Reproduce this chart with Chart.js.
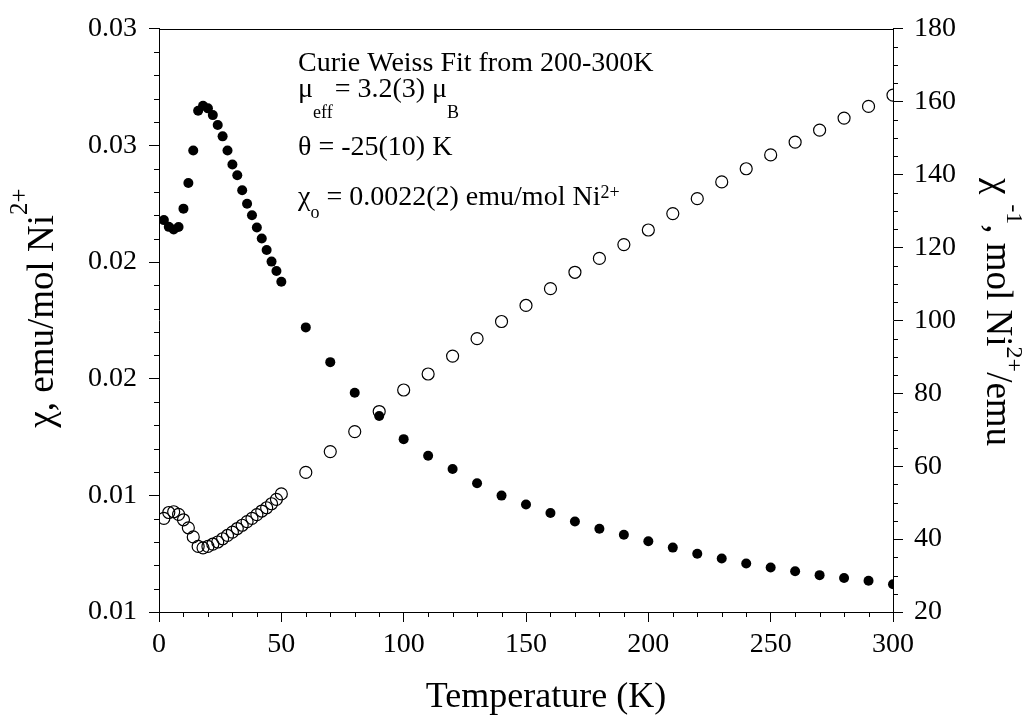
<!DOCTYPE html>
<html>
<head>
<meta charset="utf-8">
<title>Susceptibility vs temperature</title>
<script src="https://cdn.jsdelivr.net/npm/chart.js@4.4.1/dist/chart.umd.min.js"></script>
<style>
  html, body { margin: 0; padding: 0; background: #fff; }
  #wrap { width: 1032px; height: 715px; }
</style>
</head>
<body>
<div id="wrap"><canvas id="chiChart" width="1032" height="715"></canvas></div>
<script>
// temperatures (K)
const temperatures = [2, 4, 6, 8, 10, 12, 14, 16, 18, 20, 22, 24, 26, 28, 30, 32, 34, 36, 38, 40,
  42, 44, 46, 48, 50, 60, 70, 80, 90, 100, 110, 120, 130, 140, 150, 160, 170, 180, 190, 200,
  210, 220, 230, 240, 250, 260, 270, 280, 290, 300];

// chi, emu/mol Ni2+ (filled circles, left axis)
const chiValues = [0.02180, 0.02151, 0.02140, 0.02150, 0.02229, 0.02339, 0.02478, 0.02649, 0.02670, 0.02659,
  0.02630, 0.02588, 0.02539, 0.02478, 0.02418, 0.02372, 0.02308, 0.02250, 0.02201, 0.02148,
  0.02101, 0.02052, 0.02002, 0.01962, 0.01916, 0.01720, 0.01571, 0.01440, 0.01340, 0.01241,
  0.01170, 0.01113, 0.01052, 0.00999, 0.00961, 0.00924, 0.00888, 0.00857, 0.00831, 0.00803,
  0.00776, 0.00750, 0.00729, 0.00708, 0.00691, 0.00675, 0.00658, 0.00646, 0.00634, 0.00619];

// chi^-1, mol Ni2+/emu (open circles, right axis)
const chiInvValues = [45.7, 47.3, 47.5, 46.8, 45.3, 43.1, 40.6, 38.0, 37.6, 38.0,
  38.6, 39.2, 40.1, 41.0, 41.9, 42.9, 43.8, 44.8, 45.7, 46.7,
  47.7, 48.6, 49.7, 50.9, 52.4, 58.3, 64.0, 69.5, 75.0, 80.9,
  85.3, 90.2, 95.0, 99.7, 104.1, 108.7, 113.2, 117.0, 120.8, 124.8,
  129.3, 133.4, 138.0, 141.6, 145.4, 148.9, 152.2, 155.5, 158.7, 161.8];

// tick labels of the left axis, bottom to top (as printed)
const chiTickLabels = ['0.01', '0.01', '0.02', '0.02', '0.03', '0.03'];

// texts
const xTitle = 'Temperature (K)';
const leftTitle = [['χ, emu/mol Ni', 0], ['2+', 1]];
const rightTitle = [['χ', 0], ['-1', 1], [', mol Ni', 0], ['2+', 1], ['/emu', 0]];
const fitNotes = [
  [['Curie Weiss Fit from 200-300K', 0]],
  [['μ', 0], ['eff', -1], ['= 3.2(3) μ', 0], ['B', -1]],
  [['θ = -25(10) K', 0]],
  [['χ', 0], ['o', -1], [' = 0.0022(2) emu/mol Ni', 0], ['2+', 1]]
];

const FONT = "'Liberation Serif', 'Times New Roman', serif";

function fontOf(size) { return size + 'px ' + FONT; }

// draws a run of normal / sub / superscript pieces starting at (x, y) baseline
function drawRuns(ctx, runs, x, y, st) {
  let cx = x;
  runs.forEach(([text, kind], i) => {
    const size = kind === 0 ? st.size : st.small;
    const dy = kind === 0 ? 0 : (kind > 0 ? st.sup : st.sub);
    if (st.gaps && st.gaps[i]) cx += st.gaps[i];
    ctx.font = fontOf(size);
    ctx.fillText(text, cx, y + dy);
    cx += ctx.measureText(text).width;
  });
  return cx - x;
}

function runsWidth(ctx, runs, st) {
  let w = 0;
  runs.forEach(([text, kind], i) => {
    ctx.font = fontOf(kind === 0 ? st.size : st.small);
    w += ctx.measureText(text).width + ((st.gaps && st.gaps[i]) || 0);
  });
  return w;
}

// minor ticks, top frame line, titles and the fit notes
const decorations = {
  id: 'decorations',
  afterDraw(chart) {
    const ctx = chart.ctx;
    const a = chart.chartArea;
    const px = p => Math.round(p) + 0.5;
    ctx.save();
    ctx.strokeStyle = '#000';
    ctx.lineWidth = 1;
    ctx.beginPath();
    ctx.moveTo(a.left, px(a.top));
    ctx.lineTo(a.right, px(a.top));

    const minor = (scale, step, per, len) => {
      const n = Math.round((scale.max - scale.min) / step);
      for (let i = 1; i < n; i++) {
        if (i % per === 0) continue;
        const p = px(scale.getPixelForValue(scale.min + i * step));
        if (scale.isHorizontal()) {
          ctx.moveTo(p, a.bottom); ctx.lineTo(p, a.bottom + len);
        } else if (scale.position === 'left') {
          ctx.moveTo(a.left, p); ctx.lineTo(a.left - len, p);
        } else {
          ctx.moveTo(a.right, p); ctx.lineTo(a.right + len, p);
        }
      }
    };
    minor(chart.scales.x, 10, 5, 5);
    minor(chart.scales.yChi, 0.001, 5, 5);
    minor(chart.scales.yInv, 5, 4, 5);
    ctx.stroke();

    ctx.fillStyle = '#000';
    ctx.textBaseline = 'alphabetic';
    ctx.textAlign = 'left';

    // x title
    ctx.font = fontOf(36);
    const xw = ctx.measureText(xTitle).width;
    ctx.fillText(xTitle, 546 - xw / 2, 707);

    // left title, reading upwards
    const ls = { size: 37, small: 25, sup: -26, sub: 0 };
    const lw = runsWidth(ctx, leftTitle, ls);
    ctx.save();
    ctx.translate(53, 308);
    ctx.rotate(-Math.PI / 2);
    drawRuns(ctx, leftTitle, -lw / 2, 0, ls);
    ctx.restore();

    // right title, reading downwards
    const rs = { size: 37, small: 24, sup: -20, sub: 0, gaps: { 1: 10 } };
    const rw = runsWidth(ctx, rightTitle, rs);
    ctx.save();
    ctx.translate(987, 312);
    ctx.rotate(Math.PI / 2);
    drawRuns(ctx, rightTitle, -rw / 2, 0, rs);
    ctx.restore();

    // fit notes
    const noteBase = [71, 97, 155, 205];
    const noteSub = [0, 21, 0, 13];
    fitNotes.forEach((runs, i) => {
      drawRuns(ctx, runs, 298, noteBase[i], { size: 28, small: 18, sup: -7, sub: noteSub[i], gaps: i === 1 ? { 2: 2 } : null });
    });
    ctx.restore();
  }
};

const tickFont = { family: FONT, size: 28 };

const chiPoints = temperatures.map((t, i) => ({ x: t, y: chiValues[i] }));
const chiInvPoints = temperatures.map((t, i) => ({ x: t, y: chiInvValues[i] }));

new Chart(document.getElementById('chiChart'), {
  type: 'scatter',
  data: {
    datasets: [
      {
        label: 'χ',
        data: chiPoints,
        yAxisID: 'yChi',
        pointRadius: 5,
        pointBackgroundColor: '#000',
        pointBorderWidth: 0,
        showLine: false
      },
      {
        label: 'χ-1',
        data: chiInvPoints,
        yAxisID: 'yInv',
        pointRadius: 6,
        pointBackgroundColor: 'rgba(0,0,0,0)',
        pointBorderColor: '#000',
        pointBorderWidth: 1.2,
        showLine: false
      }
    ]
  },
  options: {
    responsive: false,
    animation: false,
    devicePixelRatio: 1,
    layout: { padding: { top: 26, left: 0, right: 0, bottom: 0 } },
    plugins: {
      legend: { display: false },
      tooltip: { enabled: false }
    },
    scales: {
      x: {
        type: 'linear',
        position: 'bottom',
        min: 0,
        max: 300,
        ticks: { stepSize: 50, padding: 6, color: '#000', font: tickFont, maxRotation: 0 },
        grid: { drawOnChartArea: false, tickLength: 10, color: '#000' },
        border: { color: '#000', width: 1 },
        afterFit: s => { s.height = 103; }
      },
      yChi: {
        type: 'linear',
        position: 'left',
        min: 0.005,
        max: 0.030,
        ticks: {
          stepSize: 0.005,
          padding: 12,
          color: '#000',
          font: tickFont,
          callback: (v, i) => chiTickLabels[i]
        },
        grid: { drawOnChartArea: false, tickLength: 10, color: '#000' },
        border: { color: '#000', width: 1 },
        afterFit: s => { s.width = 159; }
      },
      yInv: {
        type: 'linear',
        position: 'right',
        min: 20,
        max: 180,
        ticks: { stepSize: 20, padding: 11, color: '#000', font: tickFont },
        grid: { drawOnChartArea: false, tickLength: 10, color: '#000' },
        border: { color: '#000', width: 1 },
        afterFit: s => { s.width = 139; }
      }
    }
  },
  plugins: [decorations]
});
</script>
</body>
</html>
